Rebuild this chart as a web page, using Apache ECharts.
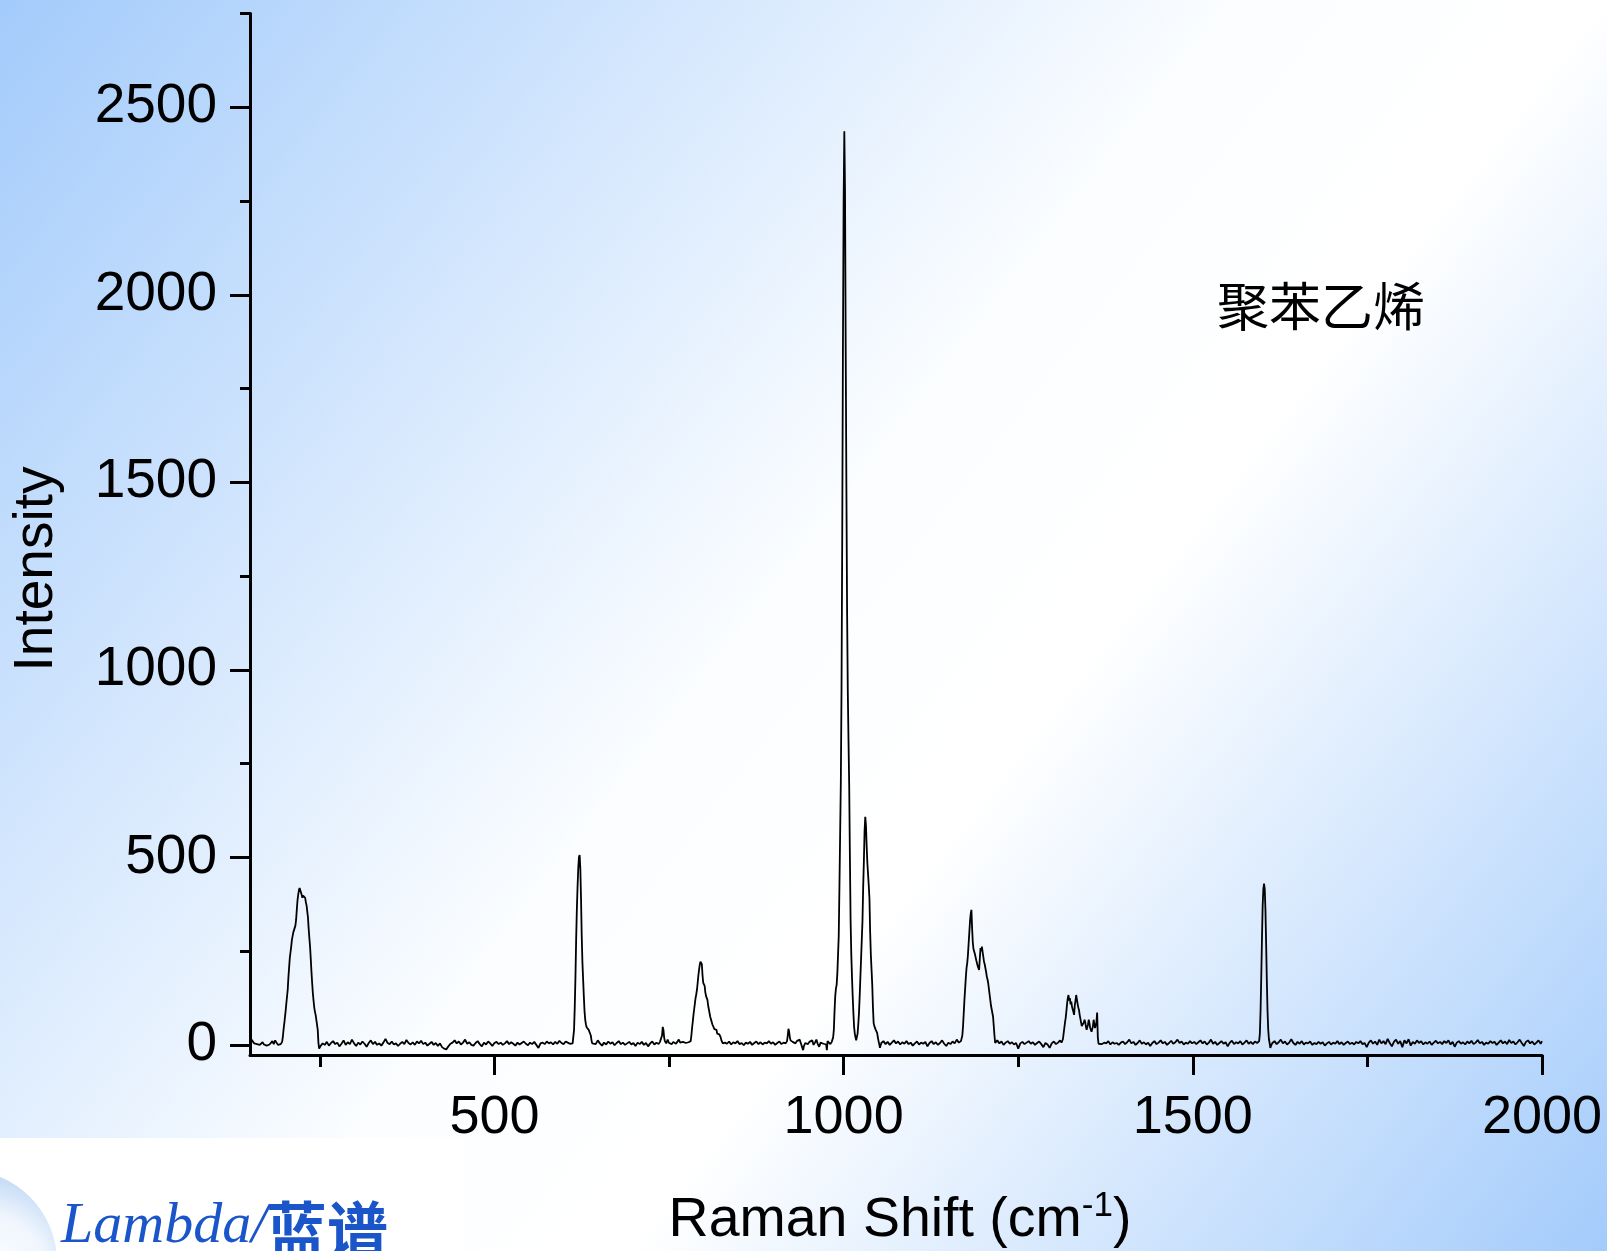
<!DOCTYPE html>
<html>
<head>
<meta charset="utf-8">
<script src="https://cdn.jsdelivr.net/npm/echarts@6/dist/echarts.min.js"></script>
<style>
html,body{margin:0;padding:0;background:#fff;}
#chart{width:1607px;height:1251px;}
</style>
</head>
<body>
<div id="chart"></div>
<script>
// ---- Data: [Raman shift (cm-1), intensity] ----
const baseline150 = [[150,8],[152,14],[154,10],[156,4],[158,6],[160,2],[162,5],[164,0],[166,3],[168,7],[170,1],[172,4],[174,-2],[176,3],[178,1],[180,5],[182,10],[184,2],[186,12],[188,6],[190,0],[192,-4],[194,2],[196,8]];
const peak222 = [[197,21],[198,40],[199.5,64],[201,90],[202,110],[204,147],[205,180],[207,232],[209,262],[210,280],[212,300],[213,306],[214,312],[215,318],[216,333],[217,360],[218,385],[219,400],[220,412],[221,418],[222,420],[223,413],[224,400],[225,392],[226,398],[227,402],[228,394],[229,392],[230,380],[231,372],[232,369],[233,340],[234,310],[235,285],[236,262],[237,230],[238,195],[239,165],[240,138],[241,118],[242,100],[243,88],[244,80],[245,77],[246,75],[247,40],[248,5],[249,-10],[250,-5]];
const baseline250 = [[251,-3],[254,4],[257,0],[260,8],[263,-2],[266,5],[269,10],[272,2],[275,6],[278,-4],[281,3],[284,12],[287,0],[290,7],[293,2],[296,14],[299,4],[302,-3],[305,6],[308,1],[311,9],[314,3],[317,-5],[320,5],[323,12],[326,2],[329,8],[332,0],[335,4],[338,-2],[341,6],[344,16],[347,5],[350,2],[353,9],[356,1],[359,4],[362,-3],[365,3],[368,8],[371,2],[374,13],[377,5],[380,1],[383,7],[386,0],[389,9],[392,4],[395,11],[398,2],[401,6],[404,-2],[407,3],[410,8],[413,0],[416,5],[419,-3],[422,4],[425,-6],[428,-10],[431,-12],[434,-4],[437,3],[440,6],[443,12],[446,4],[449,9],[452,1],[455,6],[458,14],[461,3],[464,7],[467,0],[470,-2],[473,5],[476,10],[479,2],[482,-4],[485,6],[488,1],[491,9],[494,4],[497,-3],[500,5],[503,8],[506,2],[509,6],[512,0],[515,4],[518,10],[521,2],[524,7],[527,3],[530,-2],[533,6],[536,1],[539,5],[542,9],[545,3],[548,-1],[551,6],[554,2],[557,8],[560,0],[563,-8],[566,4],[569,6],[572,2],[575,9],[578,4],[581,7],[584,1],[587,8],[590,3],[593,11],[596,5],[599,2],[602,9],[605,6],[608,3],[610,8],[612,4]];
const peak621 = [[613,5],[614,40],[615,100],[616,180],[617,280],[618,360],[619,420],[620,470],[621,500],[622,506],[623,470],[624,390],[625,290],[626,220],[627,175],[628,130],[629,90],[630,67],[631,55],[632,47],[633,42],[634,44],[635,40],[636,42],[637,36],[638,25],[639,12],[640,4]];
const baseline640 = [[642,8],[645,2],[648,12],[651,4],[654,-2],[657,6],[660,1],[663,9],[666,3],[669,7],[672,-1],[675,5],[678,10],[681,2],[684,6],[687,0],[690,4],[693,8],[696,1],[699,5],[702,-3],[705,6],[708,2],[711,8],[714,0],[717,5],[720,-4],[723,4],[726,9],[729,1],[732,6],[735,2],[737,8],[739,12],[740,25],[741,48],[742,40],[743,20],[744,10],[746,4],[748,14],[750,5],[752,10],[754,2],[756,8],[758,12],[760,3],[762,7],[764,14],[766,6],[768,4],[770,8],[772,10],[774,5],[776,9],[778,7],[780,5]];
const peak796 = [[781,10],[782,25],[783,45],[784,62],[785,80],[786,95],[787,110],[788,125],[789,135],[790,147],[791,165],[792,185],[793,200],[794,213],[795,222],[796,227],[797,215],[798,185],[799,165],[800,160],[801,157],[802,140],[803,130],[804,125],[805,120],[806,105],[807,95],[808,85],[809,75],[810,68],[811,62],[812,55],[813,59],[814,50],[815,42],[816,45],[817,38],[818,40],[819,30],[820,35],[821,32],[822,28],[823,32],[824,20],[825,12],[826,8],[827,4],[828,0]];
const baseline830 = [[830,6],[833,3],[836,9],[839,1],[842,7],[845,4],[848,10],[851,2],[854,5],[857,-1],[860,6],[863,3],[866,8],[869,0],[872,5],[875,9],[878,2],[881,7],[884,1],[887,6],[890,4],[893,10],[896,3],[899,7],[902,0],[905,5],[908,9],[911,2],[914,6],[917,4],[919,10],[920,25],[921,43],[922,35],[923,20],[924,12],[925,14],[927,8],[929,12],[931,4],[933,10],[935,6],[937,14],[939,3],[941,8],[942,-14],[943,-4],[945,5],[947,10],[949,2],[951,8],[953,4],[955,12],[957,0],[959,6],[961,14],[963,2],[965,-5],[967,6],[969,10],[971,3],[973,8],[975,1],[976,-14],[977,10],[979,5],[981,2],[983,8],[985,20]];
const peak1001 = [[986,40],[987,90],[988,130],[989,150],[990,160],[991,190],[992,240],[993,290],[994,420],[995,560],[996,700],[997,950],[998,1350],[999,1850],[1000,2250],[1001,2436],[1002,2280],[1003,1850],[1004,1480],[1005,1150],[1006,940],[1007,810],[1008,690],[1009,500],[1010,330],[1011,240],[1012,180],[1013,129],[1014,85],[1015,48],[1016,30],[1017,20],[1018,12],[1019,8],[1020,30],[1021,55],[1022,85],[1023,130],[1024,180],[1025,230],[1026,280],[1027,330],[1028,420],[1029,490],[1030,570],[1031,608],[1032,585],[1033,530],[1034,485],[1035,455],[1036,425],[1037,390],[1038,300],[1039,240],[1040,200],[1041,160],[1042,100],[1043,58],[1044,50],[1045,45],[1046,40],[1047,35],[1048,32],[1049,20],[1050,10],[1051,2],[1052,-8]];
const baseline1054 = [[1054,5],[1057,10],[1060,2],[1063,8],[1066,0],[1069,6],[1072,12],[1075,4],[1078,9],[1081,1],[1084,7],[1087,3],[1090,10],[1093,2],[1096,6],[1099,-2],[1102,4],[1105,9],[1108,1],[1111,6],[1114,3],[1117,8],[1120,-4],[1123,5],[1126,10],[1129,2],[1132,7],[1135,0],[1138,5],[1141,12],[1144,3],[1147,-3],[1150,6],[1153,2],[1156,9],[1159,4],[1162,14],[1165,6],[1168,10]];
const peak1183 = [[1169,15],[1170,25],[1171,50],[1172,85],[1173,120],[1174,150],[1175,180],[1176,205],[1177,218],[1178,240],[1179,270],[1180,300],[1181,330],[1182,350],[1183,360],[1184,310],[1185,272],[1186,255],[1187,250],[1188,242],[1189,240],[1190,225],[1191,220],[1192,210],[1193,205],[1194,200],[1195,230],[1196,258],[1197,250],[1198,262],[1199,248],[1200,235],[1201,222],[1202,215],[1203,205],[1204,195],[1205,182],[1206,175],[1207,165],[1208,150],[1209,135],[1210,120],[1211,105],[1212,95],[1213,85],[1214,75],[1215,50],[1216,25],[1217,5],[1218,2]];
const baseline1220 = [[1220,12],[1223,4],[1226,9],[1229,0],[1232,6],[1235,10],[1238,3],[1241,7],[1244,1],[1247,5],[1250,-10],[1253,4],[1256,8],[1259,2],[1262,6],[1265,10],[1268,3],[1271,7],[1274,0],[1277,5],[1280,9],[1283,2],[1286,-6],[1289,5],[1292,1],[1295,-8],[1298,4],[1301,9],[1304,2],[1307,6],[1310,12],[1312,6]];
const peak1325 = [[1313,5],[1314,15],[1315,30],[1316,45],[1317,60],[1318,72],[1319,90],[1320,110],[1321,125],[1322,133],[1323,118],[1324,125],[1325,108],[1326,115],[1327,102],[1328,95],[1329,88],[1330,80],[1331,105],[1332,118],[1333,133],[1334,128],[1335,110],[1336,100],[1337,93],[1338,80],[1339,70],[1340,60],[1341,50],[1342,45],[1343,55],[1344,60],[1345,67],[1346,60],[1347,48],[1348,40],[1349,37],[1350,55],[1351,67],[1352,58],[1353,45],[1354,40],[1355,35],[1356,32],[1357,50],[1358,67],[1359,55],[1360,45],[1361,40],[1362,60],[1363,86],[1364,20],[1365,3]];
const baseline1367 = [[1367,8],[1370,2],[1373,6],[1376,4],[1379,10],[1382,1],[1385,7],[1388,3],[1391,5],[1394,0],[1397,6],[1400,9],[1403,2],[1406,7],[1409,14],[1412,4],[1415,8],[1418,0],[1421,5],[1424,12],[1427,3],[1430,7],[1433,1],[1436,6],[1439,-3],[1442,5],[1445,10],[1448,2],[1451,6],[1454,12],[1457,4],[1460,8],[1463,0],[1466,5],[1469,11],[1472,3],[1475,7],[1478,14],[1481,5],[1484,9],[1487,1],[1490,6],[1493,3],[1496,10],[1499,4],[1502,8],[1505,2],[1508,7],[1511,12],[1514,4],[1517,9],[1520,1],[1523,6],[1526,14],[1529,3],[1532,8],[1535,0],[1538,5],[1541,10],[1544,3],[1547,7],[1550,-4],[1553,6],[1556,11],[1559,2],[1562,7],[1565,4],[1568,10],[1571,1],[1574,6],[1577,12],[1580,3],[1583,8],[1586,2],[1589,9],[1592,5],[1594,7]];
const peak1602 = [[1595,10],[1596,30],[1597,90],[1598,180],[1599,280],[1600,370],[1601,415],[1602,430],[1603,415],[1604,360],[1605,270],[1606,170],[1607,90],[1608,40],[1609,15],[1610,5],[1611,-8],[1612,-2]];
const baseline1614 = [[1614,5],[1617,10],[1620,2],[1623,7],[1626,14],[1629,4],[1632,9],[1635,1],[1638,6],[1641,15],[1644,5],[1647,0],[1650,8],[1653,3],[1656,10],[1659,1],[1662,6],[1665,4],[1668,9],[1671,0],[1674,5],[1677,2],[1680,8],[1683,3],[1686,7],[1689,-2],[1692,4],[1695,8],[1698,1],[1701,6],[1704,3],[1707,10],[1710,2],[1713,7],[1716,0],[1719,5],[1722,9],[1725,2],[1728,6],[1731,1],[1734,8],[1737,4],[1740,10],[1743,2],[1746,5],[1749,-6],[1752,6],[1755,12],[1758,3],[1761,9],[1764,0],[1767,14],[1770,4],[1773,10],[1776,2],[1779,16],[1782,5],[1785,-4],[1788,8],[1791,14],[1794,3],[1797,10],[1800,-6],[1803,12],[1806,4],[1809,15],[1812,-2],[1815,8],[1818,3],[1821,12],[1824,5],[1827,10],[1830,1],[1833,7],[1836,3],[1839,9],[1842,0],[1845,6],[1848,11],[1851,4],[1854,8],[1857,2],[1860,10],[1863,5],[1866,12],[1869,1],[1872,8],[1875,-5],[1878,6],[1881,10],[1884,3],[1887,7],[1890,1],[1893,9],[1896,4],[1899,11],[1902,2],[1905,6],[1908,13],[1911,4],[1914,8],[1917,0],[1920,6],[1923,3],[1926,10],[1929,5],[1932,8],[1935,0],[1938,6],[1941,12],[1944,4],[1947,9],[1950,2],[1953,13],[1956,5],[1959,9],[1962,1],[1965,7],[1968,14],[1971,5],[1974,-3],[1977,8],[1980,12],[1983,4],[1986,9],[1989,1],[1992,6],[1995,12],[1998,3],[2000,10]];

const xMajorTicks = [500, 1000, 1500, 2000];
const xMinorTicks = [250, 750, 1250, 1750];
const yMajorTicks = [0, 500, 1000, 1500, 2000, 2500];
const yMinorTicks = [250, 750, 1250, 1750, 2250, 2750];
const xRange = [150, 2000];
const yRange = [-27, 2750];
const sampleName = '聚苯乙烯';
const xTitle = 'Raman Shift (cm';
const xTitleSup = '-1';
const yTitle = 'Intensity';

const spectrum = [].concat(baseline150, peak222, baseline250, peak621, baseline640, peak796,
  baseline830, peak1001, baseline1054, peak1183, baseline1220, peak1325, baseline1367,
  peak1602, baseline1614);

const chart = echarts.init(document.getElementById('chart'), null, {renderer: 'canvas'});
const FONT = '"Liberation Sans", Arial, sans-serif';
const black = '#000';

function axisBase(extra) {
  return Object.assign({
    type: 'value',
    splitLine: {show: false},
    axisLine: {show: true, onZero: false, lineStyle: {color: black, width: 3}},
  }, extra);
}

const option = {
  animation: false,
  grid: {left: 250, right: 65, top: 13.5, bottom: 196, containLabel: false},
  xAxis: [
    axisBase({
      min: xRange[0], max: xRange[1], position: 'bottom',
      axisTick: {show: true, length: 20, customValues: xMajorTicks, lineStyle: {color: black, width: 3}},
      axisLabel: {show: true, customValues: xMajorTicks, formatter: v => String(v), fontSize: 54, fontFamily: FONT, color: black, margin: 36}
    }),
    axisBase({
      min: xRange[0], max: xRange[1], position: 'bottom',
      axisLine: {show: false, onZero: false},
      axisTick: {show: true, length: 12, customValues: xMinorTicks, lineStyle: {color: black, width: 3}},
      axisLabel: {show: false}
    })
  ],
  yAxis: [
    axisBase({
      min: yRange[0], max: yRange[1], position: 'left',
      axisTick: {show: true, length: 20, customValues: yMajorTicks, lineStyle: {color: black, width: 3}},
      axisLabel: {show: true, customValues: yMajorTicks, formatter: v => String(v), fontSize: 55, fontFamily: FONT, color: black, margin: 33}
    }),
    axisBase({
      min: yRange[0], max: yRange[1], position: 'left',
      axisLine: {show: false, onZero: false},
      axisTick: {show: true, length: 10, customValues: yMinorTicks, lineStyle: {color: black, width: 3}},
      axisLabel: {show: false}
    })
  ],
  series: [{
    type: 'line',
    xAxisIndex: 0, yAxisIndex: 0,
    data: spectrum,
    showSymbol: false, symbol: 'none',
    lineStyle: {color: black, width: 1.8},
    z: 5
  }],
  graphic: [
    {
      type: 'rect', z: -100, silent: true,
      shape: {x: 0, y: 0, width: 1607, height: 1251},
      style: {fill: new echarts.graphic.LinearGradient(0, 0, 1, 1, [
        {offset: 0, color: '#a3cbfb'},
        {offset: 0.48, color: '#fbfdff'},
        {offset: 0.62, color: '#ffffff'},
        {offset: 1, color: '#a3cbfb'}
      ])}
    },
    {
      type: 'text', x: 1321, y: 306, z: 10,
      style: {text: sampleName, fontSize: 52, fontFamily: '"Noto Sans CJK SC"', fill: black, align: 'center', verticalAlign: 'middle'}
    },
    {
      type: 'text', x: 37, y: 569, rotation: Math.PI / 2, z: 10,
      style: {text: yTitle, fontSize: 55, fontFamily: FONT, fill: black, align: 'center', verticalAlign: 'middle'}
    },
    {
      type: 'text', x: 900, y: 1221, z: 10,
      style: {
        text: '{m|' + xTitle + '}{s|' + xTitleSup + '}{m|)}',
        align: 'center', verticalAlign: 'middle',
        rich: {
          m: {fontSize: 55.5, fontFamily: FONT, fill: black, lineHeight: 64},
          s: {fontSize: 35, fontFamily: FONT, fill: black, verticalAlign: 'top', lineHeight: 60}
        }
      }
    },
    // logo block
    {
      type: 'rect', z: 20, silent: true,
      shape: {x: 0, y: 1138, width: 464, height: 113},
      style: {fill: '#ffffff'}
    },
    {
      type: 'circle', z: 21, silent: true,
      shape: {cx: -35, cy: 1262, r: 92},
      style: {fill: new echarts.graphic.RadialGradient(0.6, 0.6, 0.6, [
        {offset: 0, color: '#ffffff'},
        {offset: 0.6, color: '#f0f6fd'},
        {offset: 1, color: '#bdd7f4'}
      ])}
    },
    {
      type: 'text', x: 61, y: 1227, z: 22,
      style: {text: 'Lambda/', fontSize: 58, fontStyle: 'italic', fontFamily: '"Liberation Serif", "Times New Roman", serif', fill: '#1a55c9', align: 'left', verticalAlign: 'middle'}
    },
    {
      type: 'text', x: 266, y: 1230, z: 22,
      style: {text: '蓝谱', fontSize: 61, fontWeight: 'bold', fontFamily: '"Noto Sans CJK SC"', fill: '#1a55c9', align: 'left', verticalAlign: 'middle'}
    }
  ]
};
chart.setOption(option);
</script>
</body>
</html>
